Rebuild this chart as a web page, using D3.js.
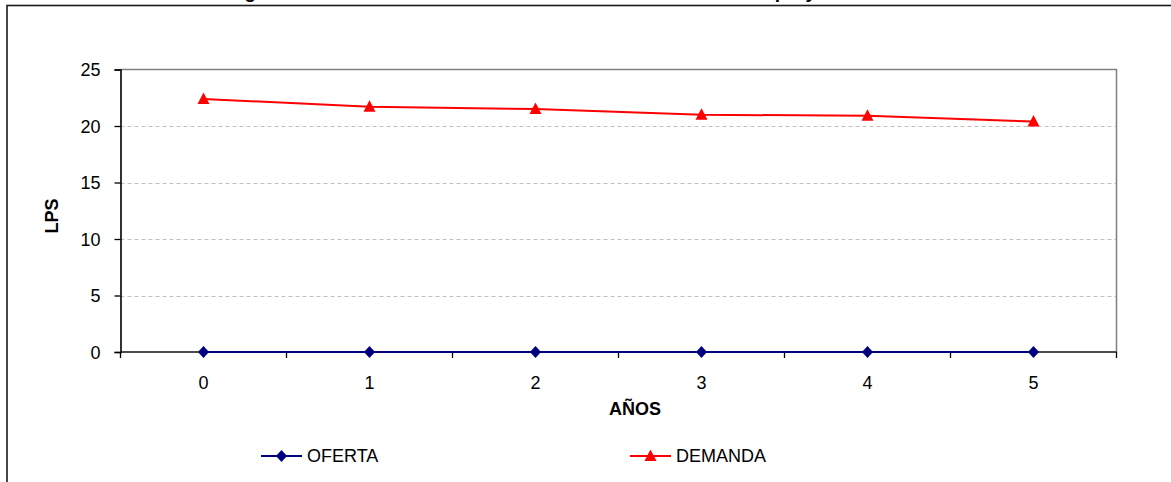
<!DOCTYPE html>
<html>
<head>
<meta charset="utf-8">
<script src="https://cdn.jsdelivr.net/npm/d3@7"></script>
<style>
  html, body { margin: 0; padding: 0; background: #fff; }
  svg { display: block; font-family: "Liberation Sans", Arial, sans-serif; }
</style>
</head>
<body>
<svg id="chart" width="1171" height="482"></svg>
<script>
// Years of the projection horizon
const years = [0, 1, 2, 3, 4, 5];
// Supply (OFERTA) and demand (DEMANDA), litres per second
const oferta = [0, 0, 0, 0, 0, 0];
const demanda = [22.4, 21.7, 21.5, 21.0, 20.9, 20.4];
const yTicks = [0, 5, 10, 15, 20, 25];
const seriesNames = ["OFERTA", "DEMANDA"];
const titleText = "Figura 6. Oferta de la fuente de abastecimiento vs demanda proyectada";

const svg = d3.select("#chart");
const W = 1171, H = 482;
const FS = 18;

// Outer chart frame
svg.append("rect")
  .attr("x", 7).attr("y", 5.5)
  .attr("width", W + 20).attr("height", H + 20)
  .attr("fill", "#fff").attr("stroke", "#1a1a1a").attr("stroke-width", 1.6);

// Title (sits above the frame; only its lower part falls inside the page)
const title = svg.append("text")
  .attr("y", -1.6)
  .attr("font-weight", "bold")
  .attr("font-size", 18)
  .attr("fill", "#000")
  .text(titleText);
{
  const node = title.node();
  const gi = titleText.indexOf("g");
  const pi = titleText.indexOf("proy");
  const cx = i => {
    const ext = node.getExtentOfChar(i);
    return ext.x + ext.width / 2;
  };
  const d = cx(pi) - cx(gi);
  title.attr("font-size", 18 * 531 / d);
  title.attr("x", 250 - cx(gi));
}

const plot = { left: 120.5, right: 1116.5, top: 69.5, bottom: 352 };

const x = d3.scaleBand().domain(years).range([plot.left, plot.right]).paddingInner(0).paddingOuter(0);
const y = d3.scaleLinear().domain([0, 25]).range([plot.bottom, plot.top]);
const cxOf = v => x(v) + x.bandwidth() / 2;

// Dashed horizontal gridlines
svg.append("g").selectAll("line").data(yTicks.filter(t => t > 0 && t < 25)).join("line")
  .attr("x1", plot.left).attr("x2", plot.right)
  .attr("y1", d => Math.round(y(d)) + 0.5).attr("y2", d => Math.round(y(d)) + 0.5)
  .attr("stroke", "#c0c0c0").attr("stroke-width", 1).attr("stroke-dasharray", "4,3");

// Plot area top and right borders
svg.append("path")
  .attr("d", `M${plot.left},${plot.top}H${plot.right}V${plot.bottom}`)
  .attr("fill", "none").attr("stroke", "#808080").attr("stroke-width", 1.5);

// Y axis
const yAxis = d3.axisLeft(y).tickValues(yTicks).tickSize(6).tickPadding(14);
const gy = svg.append("g").attr("transform", `translate(${plot.left},0)`).call(yAxis);
gy.select(".domain").attr("stroke", "#000").attr("stroke-width", 1.6);
gy.selectAll(".tick line").attr("stroke", "#000").attr("stroke-width", 1.3);
gy.selectAll(".tick text")
  .attr("font-family", "'Liberation Sans', Arial, sans-serif")
  .attr("font-size", FS).attr("fill", "#000").attr("dy", "0.36em");

// X axis: tick marks on category boundaries, labels at category centres
const boundaries = years.map(v => x(v)).concat([plot.right]);
const gx = svg.append("g");
gx.append("line")
  .attr("x1", plot.left).attr("x2", plot.right)
  .attr("y1", plot.bottom).attr("y2", plot.bottom)
  .attr("stroke", "#111").attr("stroke-width", 1.6);
gx.selectAll("line.tk").data(boundaries).join("line").attr("class", "tk")
  .attr("x1", d => d).attr("x2", d => d)
  .attr("y1", plot.bottom).attr("y2", plot.bottom + 6)
  .attr("stroke", "#000").attr("stroke-width", 1.3);
gx.selectAll("text").data(years).join("text")
  .attr("x", d => cxOf(d)).attr("y", 382.5)
  .attr("text-anchor", "middle").attr("dominant-baseline", "central")
  .attr("font-size", FS).attr("fill", "#000")
  .text(d => d);

// Axis titles
svg.append("text")
  .attr("x", 635).attr("y", 409)
  .attr("text-anchor", "middle").attr("dominant-baseline", "central")
  .attr("font-weight", "bold").attr("font-size", FS)
  .text("AÑOS");
svg.append("text")
  .attr("transform", "translate(52,216) rotate(-90)")
  .attr("text-anchor", "middle").attr("dominant-baseline", "central")
  .attr("font-weight", "bold").attr("font-size", FS)
  .text("LPS");

const line = d3.line().x((d, i) => cxOf(years[i])).y(d => y(d));

// Marker shapes
const diamondPath = "M0,-6L5.5,0L0,6L-5.5,0Z";
const trianglePath = "M0,-6.5L6,5L-6,5Z";

// OFERTA series
svg.append("path").datum(oferta)
  .attr("d", line).attr("fill", "none").attr("stroke", "#000080").attr("stroke-width", 2.2);
svg.append("g").selectAll("path").data(oferta).join("path")
  .attr("transform", (d, i) => `translate(${cxOf(years[i])},${y(d)})`)
  .attr("d", diamondPath).attr("fill", "#000080");

// DEMANDA series
svg.append("path").datum(demanda)
  .attr("d", line).attr("fill", "none").attr("stroke", "#ff0000").attr("stroke-width", 2);
svg.append("g").selectAll("path").data(demanda).join("path")
  .attr("transform", (d, i) => `translate(${cxOf(years[i])},${y(d)})`)
  .attr("d", trianglePath).attr("fill", "#ff0000");

// Legend
const legend = [
  { name: seriesNames[0], color: "#000080", shape: diamondPath, x0: 261 },
  { name: seriesNames[1], color: "#ff0000", shape: trianglePath, x0: 630 }
];
const lg = svg.append("g").selectAll("g").data(legend).join("g")
  .attr("transform", d => `translate(${d.x0},456)`);
lg.append("line").attr("x1", 0).attr("x2", 41).attr("y1", 0).attr("y2", 0)
  .attr("stroke", d => d.color).attr("stroke-width", 2);
lg.append("path").attr("transform", "translate(20.5,0)")
  .attr("d", d => d.shape).attr("fill", d => d.color);
lg.append("text").attr("x", 46).attr("y", 0)
  .attr("dominant-baseline", "central").attr("font-size", FS).attr("fill", "#000")
  .text(d => d.name);
</script>
</body>
</html>
